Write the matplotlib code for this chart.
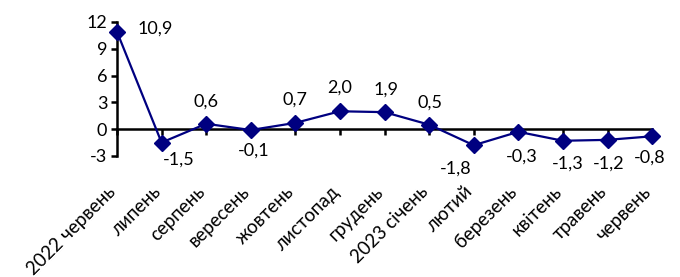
import matplotlib
matplotlib.use('Agg')

import matplotlib.pyplot as plt
import matplotlib.transforms as mtransforms

months = ["2022 червень", "липень", "серпень", "вересень", "жовтень", "листопад",
          "грудень", "2023 січень", "лютий", "березень", "квітень", "травень", "червень"]
values = [10.9, -1.5, 0.6, -0.1, 0.7, 2.0, 1.9, 0.5, -1.8, -0.3, -1.3, -1.2, -0.8]

# label offsets in pixels (dx, dy), picked by eye from the reference
label_offsets = [(38, 3), (17, -17), (0, 22), (3, -21), (0, 23), (0, 24), (1, 23),
                 (1, 22), (-18, -23), (3, -25), (5, -23), (1, -24), (-2, -21)]

plt.rcParams['font.family'] = ['Lato', 'DejaVu Sans']
plt.rcParams['font.size'] = 13

fig = plt.figure(figsize=(6.8, 2.77), dpi=100)
ax = fig.add_axes([0.172, 0.437, 0.787, 0.484])

x = list(range(len(values)))
navy = '#000080'
ax.plot(x, values, color=navy, linewidth=1.6, marker='D', markersize=8,
        clip_on=False, zorder=3)

for xi, v, (dx, dy) in zip(x, values, label_offsets):
    ax.annotate(f"{v:.1f}".replace('.', ','), (xi, v), xytext=(dx * 0.72, dy * 0.72),
                textcoords='offset points', ha='center', va='center', fontsize=13)

ax.set_xlim(0, len(values) - 1)
ax.set_ylim(-3, 12)
ax.set_yticks([-3, 0, 3, 6, 9, 12])
ax.set_yticklabels([str(t) for t in [-3, 0, 3, 6, 9, 12]])

for s in ['top', 'right']:
    ax.spines[s].set_visible(False)
ax.spines['bottom'].set_position(('data', 0))
ax.spines['bottom'].set_linewidth(1.8)
ax.spines['left'].set_linewidth(1.8)

ax.set_xticks(x)
ax.tick_params(axis='x', direction='out', length=4, width=1.8, labelbottom=False)
ax.tick_params(axis='y', direction='out', length=4, width=1.8, pad=3)

# category labels sit below the plot, not at the zero line
sec = ax.secondary_xaxis('bottom')
sec.spines['bottom'].set_visible(False)
sec.set_xticks(x)
sec.set_xticklabels(months, rotation=45, ha='right', rotation_mode='anchor',
                    fontsize=13.5)
sec.tick_params(axis='x', length=0, pad=16)
shift = mtransforms.ScaledTranslation(-10 / 100, -5 / 100, fig.dpi_scale_trans)
for lab in sec.get_xticklabels():
    lab.set_transform(lab.get_transform() + shift)

fig.savefig('out.png', dpi=100)
